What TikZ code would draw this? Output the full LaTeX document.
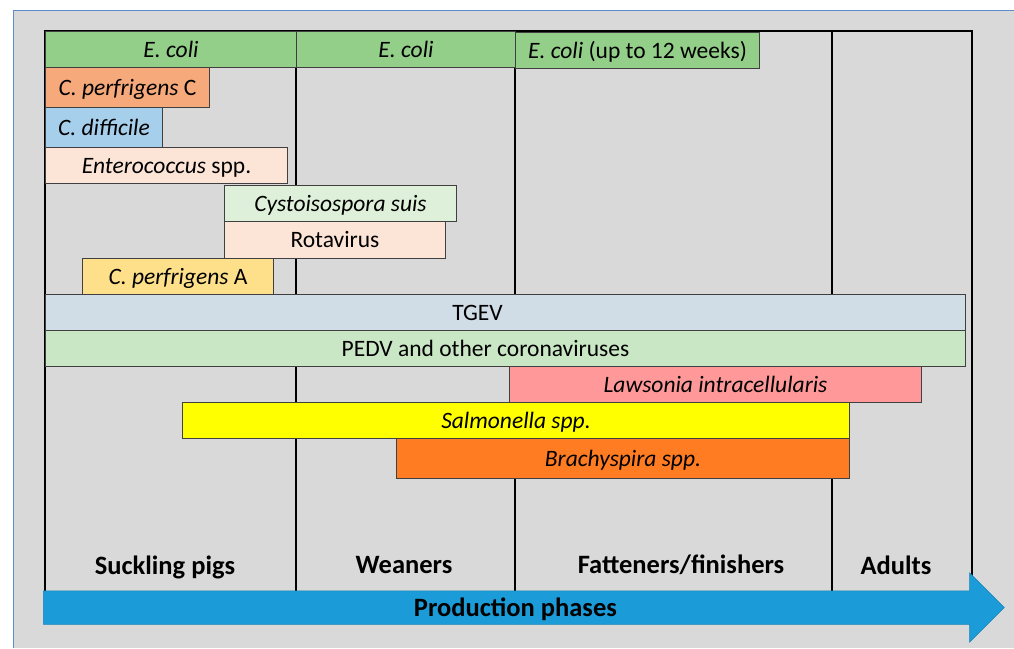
\documentclass[tikz,border=0pt]{standalone}
\usepackage{fontspec}
\setmainfont{Carlito}
\usepackage{tikz}
\usetikzlibrary{arrows,shapes.arrows}

\definecolor{bggray}{HTML}{D9D9D9}
\definecolor{bgedge}{HTML}{5B8EC8}
\definecolor{ecoli}{HTML}{94CF8A}
\definecolor{perfc}{HTML}{F6A97A}
\definecolor{diffi}{HTML}{A6CFEC}
\definecolor{peach}{HTML}{FCE4D6}
\definecolor{cysto}{HTML}{DFF0DA}
\definecolor{perfa}{HTML}{FFE08A}
\definecolor{tgev}{HTML}{D0DCE6}
\definecolor{pedv}{HTML}{C9E7C4}
\definecolor{laws}{HTML}{FF9999}
\definecolor{salm}{HTML}{FFFF00}
\definecolor{brachy}{HTML}{FF7C22}
\definecolor{phase}{HTML}{1B9BD7}

\begin{document}
\begin{tikzpicture}[x=1pt,y=-1pt,
    bar/.style={draw=black!75, line width=1pt, rectangle, inner sep=0pt, anchor=north west,
        minimum height=36pt, font=\fontsize{23.5}{26}\selectfont, text height=18.8pt, text depth=3.8pt},
    barlabel/.style={font=\fontsize{23.5}{26}\selectfont, text height=18.8pt, text depth=3.8pt, inner sep=0pt},
    frame/.style={black, line width=1.6pt},
    phasename/.style={font=\fontsize{26.5}{30}\selectfont\bfseries}]
        \useasboundingbox (0,0) rectangle (1014,648);
        \fill[bggray] (13,10) rectangle (1014,648);
        \draw[bgedge, line width=1pt] (13,648) -- (13,10) -- (1014,10);

        \draw[frame] (45,591) -- (45,31) -- (972,31) -- (972,591);
        \draw[frame] (296,31) -- (296,591);
        \draw[frame] (515,31) -- (515,591);
        \draw[frame] (832,31) -- (832,591);

        \node[bar, fill=ecoli, minimum width=251pt] (ecolisuck) at (45,31) {\textit{E. coli}};
        \node[bar, fill=ecoli, minimum width=219pt] (ecoliwean) at (296,31) {\textit{E. coli}};
        \node[bar, fill=ecoli, minimum width=244pt] (ecolifat) at (515,32) {\textit{E. coli} (up to 12 weeks)};
        \node[bar, fill=perfc, minimum width=164pt, minimum height=40pt] (perfc) at (45,67) {\textit{C. perfrigens} C};
        \node[bar, fill=diffi, minimum width=117pt, minimum height=40pt] (diffi) at (45,107) {\textit{C. difficile}};
        \node[bar, fill=peach, minimum width=242pt] (entero) at (45,147) {\textit{Enterococcus} spp.};
        \node[bar, fill=cysto, minimum width=232pt] (cysto) at (224,185) {\textit{Cystoisospora suis}};
        \node[bar, fill=peach, minimum width=221pt, minimum height=37pt] (rota) at (224,221) {Rotavirus};
        \node[bar, fill=perfa, minimum width=191pt] (perfa) at (82,258) {\textit{C. perfrigens} A};

        \node[bar, fill=tgev, minimum width=920pt,
            label={[barlabel, xshift=-28pt]center:TGEV}] (tgev) at (45,294) {};
        \node[bar, fill=pedv, minimum width=920pt,
            label={[barlabel, xshift=-20pt]center:PEDV and other coronaviruses}] (pedv) at (45,330) {};
        \node[bar, fill=laws, minimum width=412pt] (laws) at (509,366) {\textit{Lawsonia intracellularis}};
        \node[bar, fill=salm, minimum width=667pt] (salm) at (182,402) {\textit{Salmonella spp.}};
        \node[bar, fill=brachy, minimum width=453pt, minimum height=40pt] (brachy) at (396,438) {\textit{Brachyspira spp.}};

        \node[phasename] (suckling) at (165,567) {Suckling pigs};
        \node[phasename] (weaners) at (404,565) {Weaners};
        \node[phasename] (fatteners) at (681,565) {Fatteners/finishers};
        \node[phasename] (adults) at (896,565) {Adults};

        \node[single arrow, fill=phase, draw=phase!85!black, line width=0.5pt, anchor=west,
            minimum height=961pt, single arrow head extend=18pt, single arrow head indent=0pt,
            text height=20.5pt, text depth=3.5pt, inner ysep=4.5pt, inner xsep=0pt,
            phasename] (production) at (43,607.5) {Production phases};
\end{tikzpicture}
\end{document}
